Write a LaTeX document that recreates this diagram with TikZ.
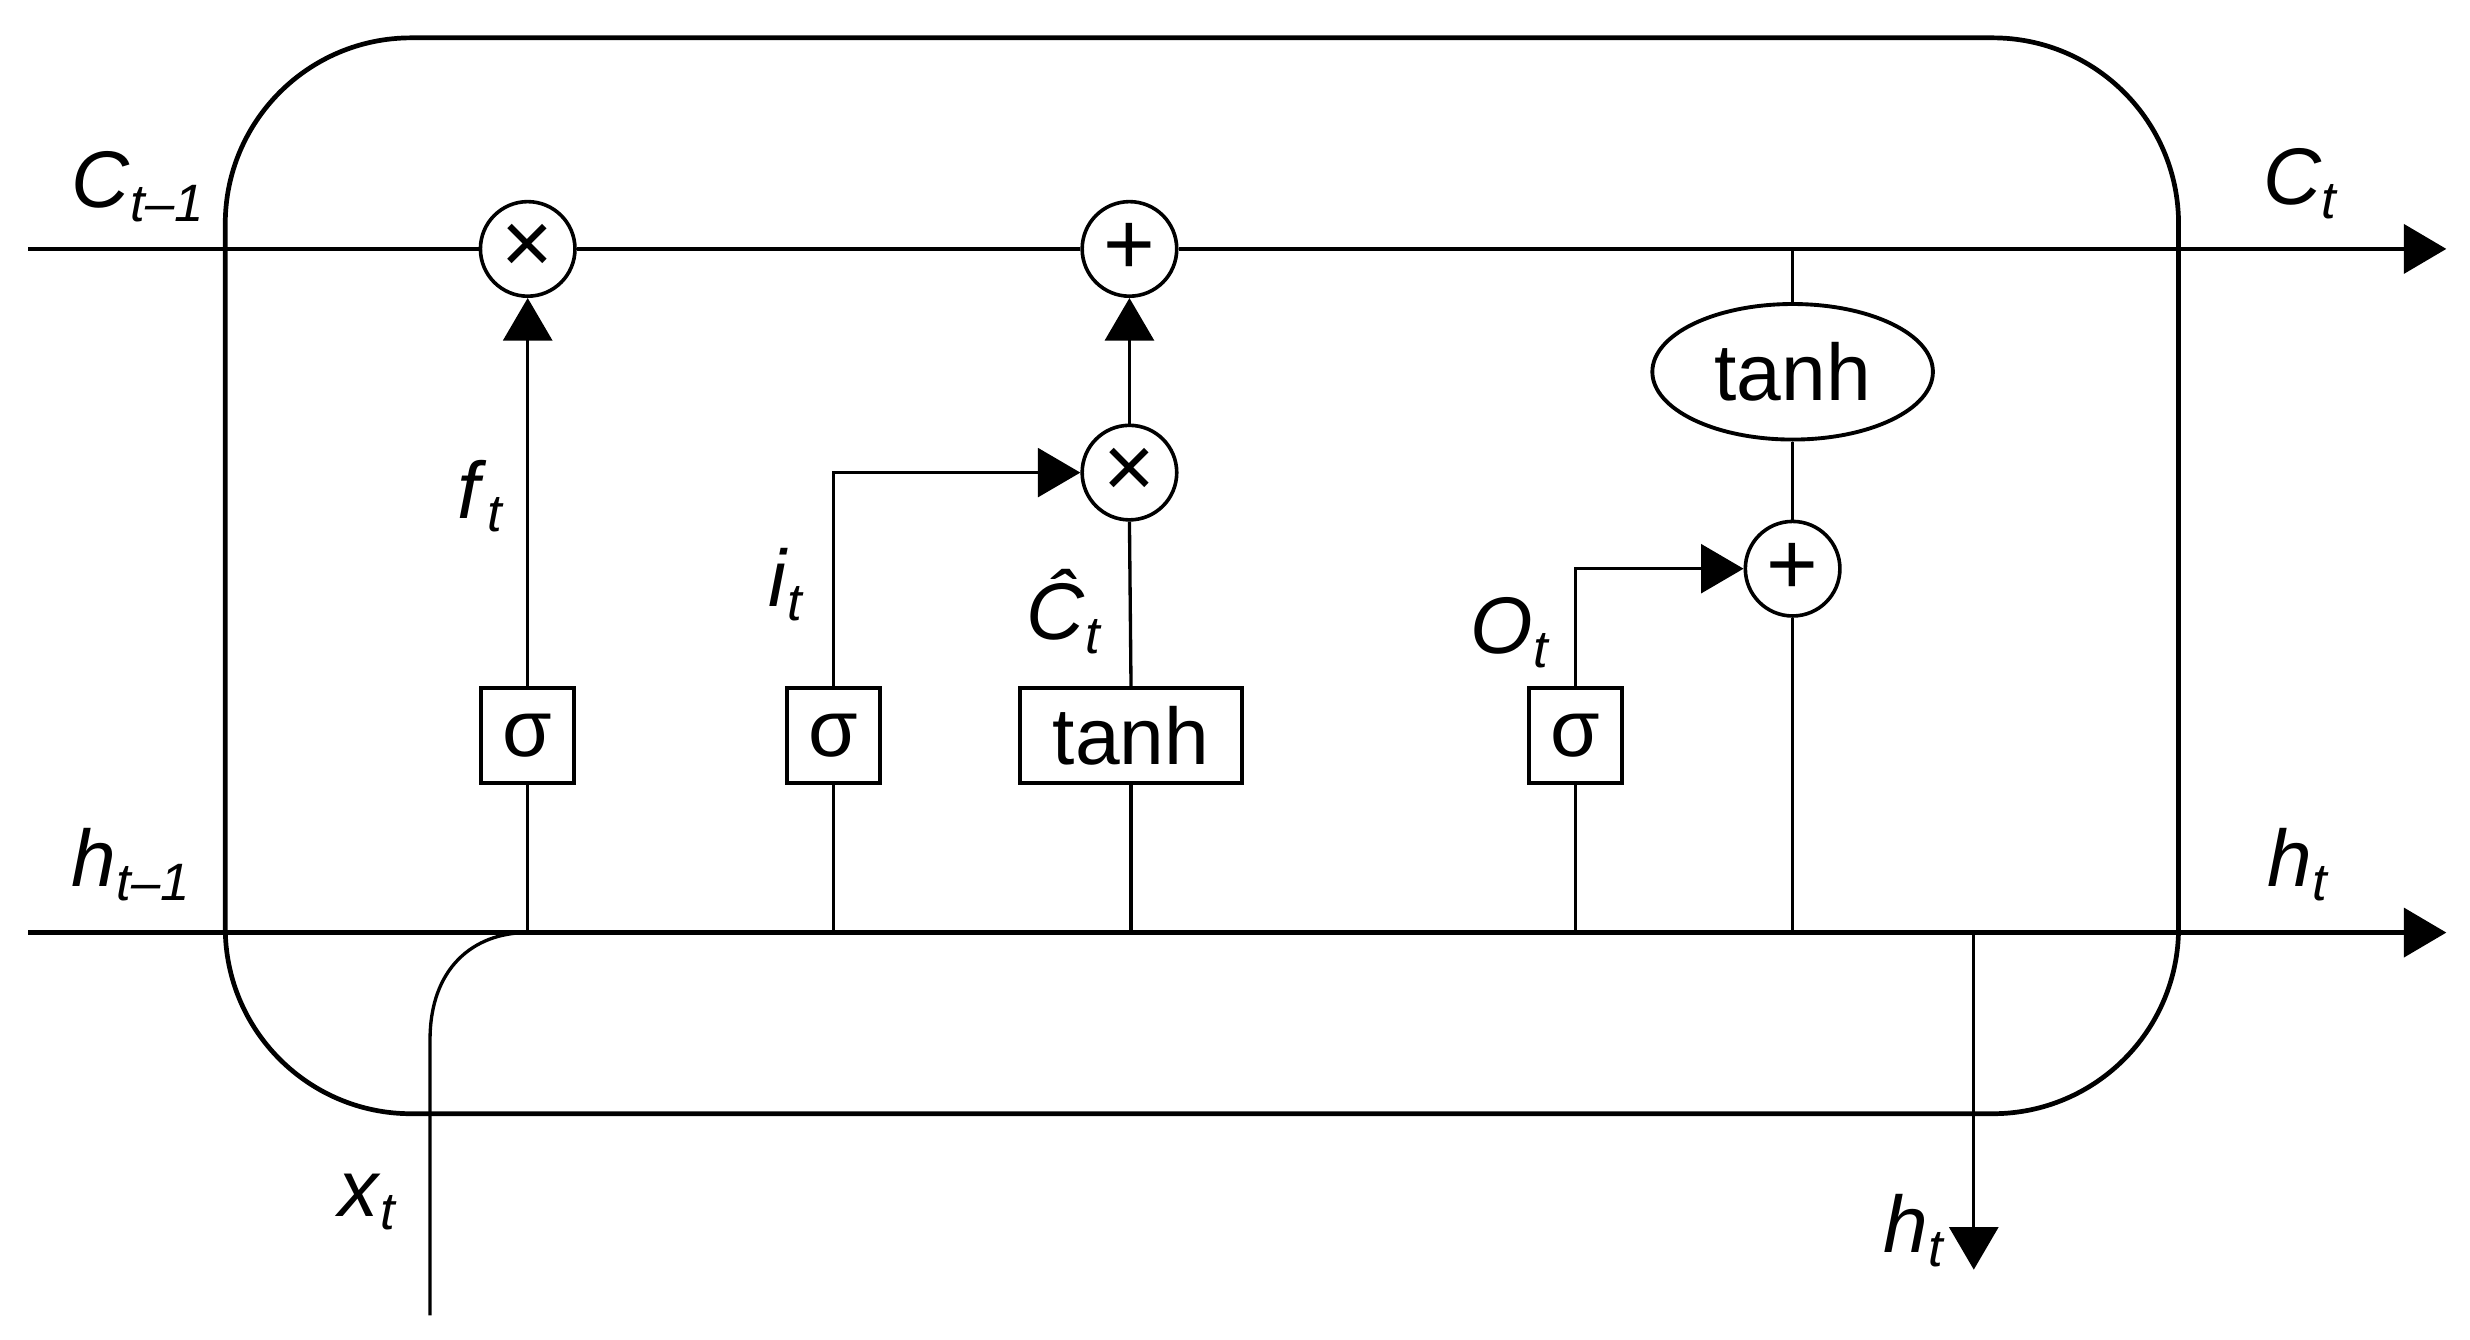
\documentclass[tikz,border=0pt]{standalone}
\usepackage{fontspec}
\setmainfont{Liberation Sans}
\usetikzlibrary{arrows.meta,shapes.geometric}
\newcommand{\lbl}[2]{\textit{#1}\raisebox{-0.17em}{\fontsize{9.5}{10}\selectfont\textit{#2}}}
\tikzset{
  main/.style={line width=0.85pt},
  thin/.style={line width=0.6pt},
  tip/.style={-{Triangle[length=0.27cm,width=0.31cm]}},
  optr/.style={draw, circle, line width=0.65pt, minimum size=0.6cm, inner sep=0pt, font=\fontsize{16}{17}\selectfont},
  gate/.style={draw, rectangle, line width=0.7pt, minimum height=0.6cm, minimum width=0.59cm, inner sep=0pt, font=\fontsize{14.5}{17}\selectfont},
  oval/.style={draw, ellipse, line width=0.7pt, minimum width=1.78cm, minimum height=0.86cm, inner sep=0pt, font=\fontsize{14.5}{17}\selectfont},
  lab/.style={anchor=base west, inner sep=0pt, font=\fontsize{14.5}{17}\selectfont}
}
\begin{document}
\begin{tikzpicture}[x=0.01cm, y=-0.01cm]
\useasboundingbox (0,0) rectangle (1568,850.6);
% outer cell
\draw[main, rounded corners=1.18cm] (143,24) rectangle (1383,707);
% coordinates
\coordinate (cin) at (18,158);
\coordinate (cout) at (1553,158);
\coordinate (hin) at (18,592);
\coordinate (hout) at (1553,592);
\coordinate (xin) at (273,835);
\coordinate (xbend) at (273,660);
\coordinate (xjoin) at (335,592);
\coordinate (hdown) at (1253,592);
\coordinate (hdownend) at (1253,806);
% operators
\node[optr] (mul1) at (335,158) {×};
\node[optr] (add1) at (717,158) {+};
\node[optr] (mul2) at (717,300) {×};
\node[optr] (add2) at (1138,361) {+};
\node[oval] (tanhE) at (1138,236) {tanh};
% gates
\node[gate] (sig1) at (335,467) {σ};
\node[gate] (sig2) at (529,467) {σ};
\node[gate, minimum width=1.41cm] (tanhB) at (718,467) {tanh};
\node[gate] (sig3) at (1000,467) {σ};
\coordinate (tapE) at (tanhE.north |- cin);
% cell state line
\draw[main] (cin) -- (mul1.west);
\draw[main] (mul1.east) -- (add1.west);
\draw[main, tip] (add1.east) -- (cout);
% hidden line
\draw[main, tip] (hin) -- (hout);
% x input
\draw[thin] (xin) -- (xbend) .. controls (273,615) and (300,592) .. (xjoin);
% forget gate
\draw[thin] (xjoin) -- (sig1.south);
\draw[thin, tip] (sig1.north) -- (mul1.south);
% input gate
\draw[thin] (sig2.south |- hin) -- (sig2.south);
\draw[thin, tip] (sig2.north) |- (mul2.west);
% candidate
\draw[thin] (tanhB.south |- hin) -- (tanhB.south);
\draw[thin] (tanhB.north) -- (mul2.south);
\draw[thin, tip] (mul2.north) -- (add1.south);
% output gate
\draw[thin] (sig3.south |- hin) -- (sig3.south);
\draw[thin, tip] (sig3.north) |- (add2.west);
\draw[thin] (add2.south |- hin) -- (add2.south);
\draw[thin] (add2.north) -- (tanhE.south);
\draw[thin] (tanhE.north) -- (tapE);
% output h down
\draw[thin, tip] (hdown) -- (hdownend);
% labels
\node[lab] (lC0) at (45,132) {\lbl{C}{t–1}};
\node[lab] (lC1) at (1436,130) {\lbl{C}{t}};
\node[lab] (lf) at (290,329) {\lbl{f}{t}};
\node[lab] (li) at (487,385) {\lbl{i}{t}};
\node[lab] (lCh) at (651,406) {\lbl{Ĉ}{t}};
\node[lab] (lo) at (933,415) {\lbl{O}{t}};
\node[lab] (lh0) at (45,563) {\lbl{h}{t–1}};
\node[lab] (lh1) at (1439,563) {\lbl{h}{t}};
\node[lab] (lx) at (214,772) {\lbl{x}{t}};
\node[lab] (lh2) at (1195,795) {\lbl{h}{t}};
\end{tikzpicture}
\end{document}
